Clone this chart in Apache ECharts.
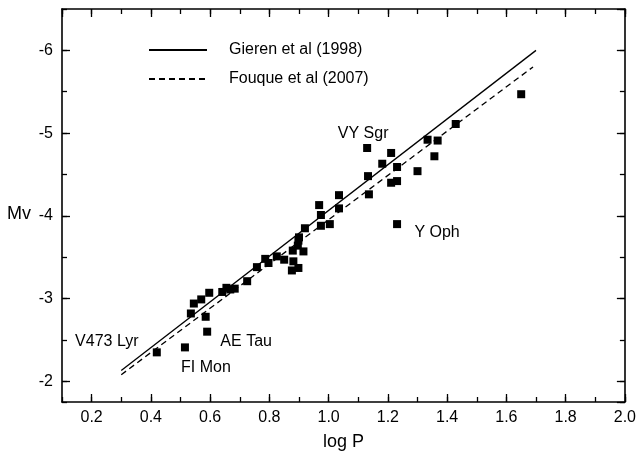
<!DOCTYPE html>
<html><head><meta charset="utf-8">
<script src="https://cdn.jsdelivr.net/npm/echarts/dist/echarts.min.js"></script>
<style>html,body{margin:0;padding:0;background:#fff}#c{width:639px;height:460px}</style>
</head><body><div id="c"></div>
<script>
// Cepheid data: log P vs Mv
const logP = [0.42, 0.515, 0.59, 0.585, 0.535, 0.545, 0.57, 0.597, 0.641, 0.655, 0.668, 0.683,
  0.725, 0.758, 0.786, 0.797, 0.825, 0.85, 0.881, 0.876, 0.898, 0.879, 0.915, 0.898, 0.900, 0.896,
  0.92, 0.974, 1.004, 0.974, 0.968, 1.035, 1.035, 1.136, 1.133, 1.13, 1.181, 1.211, 1.211, 1.231,
  1.231, 1.231, 1.30, 1.334, 1.368, 1.357, 1.429, 1.65];
const mv = [-2.35, -2.41, -2.60, -2.78, -2.82, -2.94, -2.99, -3.07, -3.08, -3.13, -3.11, -3.12,
  -3.21, -3.38, -3.48, -3.43, -3.51, -3.47, -3.45, -3.34, -3.37, -3.58, -3.57, -3.70, -3.74, -3.64,
  -3.85, -3.88, -3.90, -4.01, -4.13, -4.09, -4.25, -4.26, -4.48, -4.82, -4.63, -4.76, -4.40, -4.42,
  -4.59, -3.90, -4.54, -4.92, -4.91, -4.72, -5.11, -5.47];
const starNames = ['V473 Lyr', 'FI Mon', 'AE Tau', '', '', '', '', '', '', '', '', '',
  '', '', '', '', '', '', '', '', '', '', '', '', '', '',
  '', '', '', '', '', '', '', '', '', 'VY Sgr', '', '', '', '',
  '', 'Y Oph', '', '', '', '', '', ''];
const gierenX = [0.3, 1.7];
const gierenY = [-2.13, -6.00];
const fouqueX = [0.3, 1.69];
const fouqueY = [-2.08, -5.80];
const xTickLabels = ['0.2','0.4','0.6','0.8','1.0','1.2','1.4','1.6','1.8','2.0'];
const yTickLabels = ['-2','-3','-4','-5','-6'];

const labelOffsets = {
  'V473 Lyr': [-50, -11], 'FI Mon': [21, 20], 'AE Tau': [39, 10],
  'VY Sgr': [-4, -14], 'Y Oph': [40, 8]
};
const FONT = 'Liberation Sans, Arial, Helvetica, sans-serif';
const black = '#000';

const points = logP.map((x, i) => {
  const item = { value: [x, mv[i]] };
  const n = starNames[i];
  if (n) {
    item.label = { show: true, position: 'inside', offset: labelOffsets[n], formatter: n,
      color: black, fontSize: 16, fontFamily: FONT };
  }
  return item;
});

function xAxisCfg(pos, major) {
  const c = {
    type: 'value', position: pos, min: 0.1, max: 2.0,
    splitLine: { show: false },
    axisLine: { show: major, onZero: false, lineStyle: { color: black, width: 1.6 } },
    axisTick: { show: true, inside: true, length: major ? 8 : 5, lineStyle: { color: black, width: 1.3 } },
    axisLabel: { show: false }
  };
  if (major) {
    c.minInterval = 0.2; c.maxInterval = 0.2; c.splitNumber = 10;
  } else {
    c.interval = 0.1;
  }
  if (major && pos === 'bottom') {
    c.axisLabel = { show: true, showMinLabel: false, margin: 8, color: black, fontSize: 16, fontFamily: FONT,
      formatter: v => { const s = v.toFixed(1); return xTickLabels.indexOf(s) >= 0 ? s : ''; } };
    c.name = 'log P'; c.nameLocation = 'middle'; c.nameGap = 31;
    c.nameTextStyle = { color: black, fontSize: 18, fontFamily: FONT };
  }
  return c;
}
function yAxisCfg(pos, major) {
  const c = {
    type: 'value', position: pos, min: -6.5, max: -1.75, inverse: true,
    splitLine: { show: false },
    axisLine: { show: major, onZero: false, lineStyle: { color: black, width: 1.6 } },
    axisTick: { show: true, inside: true, length: major ? 8 : 5, lineStyle: { color: black, width: 1.3 } },
    axisLabel: { show: false }
  };
  if (major) {
    c.minInterval = 1; c.maxInterval = 1;
  } else {
    c.interval = 0.5;
  }
  if (major && pos === 'left') {
    c.axisLabel = { show: true, showMinLabel: false, showMaxLabel: false, margin: 9, color: black,
      fontSize: 16, fontFamily: FONT,
      formatter: v => { const s = String(Math.round(v)); return (Math.abs(v - Math.round(v)) < 1e-6 && yTickLabels.indexOf(s) >= 0) ? s : ''; } };
    c.name = 'Mv'; c.nameLocation = 'middle'; c.nameRotate = 0; c.nameGap = 31;
    c.nameTextStyle = { color: black, fontSize: 18, fontFamily: FONT, verticalAlign: 'top', align: 'right' };
  }
  return c;
}

const chart = echarts.init(document.getElementById('c'), null, { renderer: 'canvas' });
chart.setOption({
  animation: false,
  backgroundColor: '#fff',
  grid: { left: 62, right: 11, top: 9, bottom: 58 },
  xAxis: [xAxisCfg('bottom', true), xAxisCfg('bottom', false), xAxisCfg('top', true), xAxisCfg('top', false)],
  yAxis: [yAxisCfg('left', true), yAxisCfg('left', false), yAxisCfg('right', true), yAxisCfg('right', false)],
  legend: {
    orient: 'vertical', left: 143, top: 37, itemWidth: 58, itemHeight: 14, itemGap: 13,
    data: ['Gieren et al (1998)', 'Fouque et al (2007)'],
    itemStyle: { opacity: 0, color: 'transparent', borderWidth: 0 },
    textStyle: { color: black, fontSize: 16, fontFamily: FONT, padding: [0, 0, 0, 17] },
    selectedMode: false
  },
  series: [
    {
      name: 'Gieren et al (1998)', type: 'line', xAxisIndex: 0, yAxisIndex: 0, symbol: 'none',
      data: gierenX.map((x, i) => [x, gierenY[i]]),
      lineStyle: { color: black, width: 1.3, type: 'solid' }, itemStyle: { color: black }, z: 3
    },
    {
      name: 'Fouque et al (2007)', type: 'line', xAxisIndex: 0, yAxisIndex: 0, symbol: 'none',
      data: fouqueX.map((x, i) => [x, fouqueY[i]]),
      lineStyle: { color: black, width: 1.3, type: [6, 4] }, itemStyle: { color: black }, z: 3
    },
    {
      name: 'Cepheids', type: 'scatter', xAxisIndex: 0, yAxisIndex: 0, symbol: 'rect', symbolSize: 8,
      itemStyle: { color: black, opacity: 1 }, data: points, z: 4
    }
  ]
});
</script>
</body></html>
